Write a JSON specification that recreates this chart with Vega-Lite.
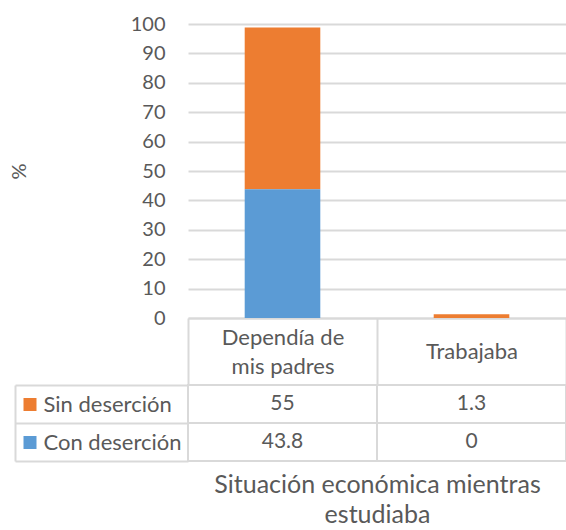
{
  "$schema": "https://vega.github.io/schema/vega-lite/v6.json",
  "padding": {"left": 9, "top": 14, "right": 0, "bottom": 0},
  "background": "white",
  "bounds": "flush",
  "spacing": 67,
  "data": {
    "values": [
      {"cat": "Dependía de mis padres", "serie": "Sin deserción", "value": 55},
      {"cat": "Dependía de mis padres", "serie": "Con deserción", "value": 43.8},
      {"cat": "Trabajaba", "serie": "Sin deserción", "value": 1.3},
      {"cat": "Trabajaba", "serie": "Con deserción", "value": 0}
    ]
  },
  "config": {
    "font": "Lato",
    "view": {"stroke": null},
    "axis": {
      "labelColor": "#595959",
      "titleColor": "#595959",
      "labelFont": "Lato",
      "titleFont": "Lato",
      "titleFontWeight": "normal",
      "gridColor": "#d9d9d9",
      "domainColor": "#d9d9d9",
      "tickColor": "#d9d9d9"
    }
  },
  "vconcat": [
    {
      "width": 378,
      "height": 294,
      "mark": {"type": "bar", "width": {"band": 0.4}},
      "encoding": {
        "x": {
          "field": "cat", "type": "nominal", "sort": null,
          "scale": {"paddingInner": 0, "paddingOuter": 0},
          "axis": {
            "title": null, "orient": "bottom", "labelAngle": 0, "labelFontSize": 22,
            "labelExpr": "datum.value == 'Dependía de mis padres' ? ['Dependía de', 'mis padres'] : datum.value",
            "labelLineHeight": 29, "labelBaseline": "middle",
            "labelPadding": {"condition": {"test": "datum.value == 'Dependía de mis padres'", "value": -48}, "value": -34},
            "tickBand": "extent", "tickSize": 67, "tickWidth": 2, "domainWidth": 2, "grid": false
          }
        },
        "y": {
          "field": "value", "type": "quantitative", "stack": "zero",
          "scale": {"domain": [0, 100], "nice": false},
          "axis": {
            "title": "%", "titleFontSize": 20, "titlePadding": 101,
            "labelFontSize": 20, "labelPadding": 23, "ticks": false, "domain": false,
            "values": [0, 10, 20, 30, 40, 50, 60, 70, 80, 90, 100], "gridWidth": 2
          }
        },
        "color": {
          "field": "serie", "type": "nominal",
          "scale": {"domain": ["Sin deserción", "Con deserción"], "range": ["#ED7D31", "#5B9BD5"]},
          "legend": null
        },
        "order": {"field": "serie", "sort": "ascending"}
      }
    },
    {
      "width": 378,
      "height": 76,
      "encoding": {
        "x": {
          "field": "cat", "type": "nominal", "sort": null,
          "scale": {"paddingInner": 0, "paddingOuter": 0},
          "axis": {
            "labels": false, "ticks": false, "domain": false,
            "title": ["Situación económica mientras", "estudiaba"],
            "titleFontSize": 25, "titleLineHeight": 30, "titlePadding": 11
          }
        }
      },
      "layer": [
        {
          "mark": {"type": "rect", "fill": "white", "stroke": "#d9d9d9", "strokeWidth": 2},
          "encoding": {
            "y": {
              "field": "serie", "type": "nominal", "sort": ["Sin deserción", "Con deserción"],
              "scale": {"paddingInner": 0, "paddingOuter": 0},
              "axis": {
                "orient": "left", "offset": 173, "title": null,
                "domain": true, "domainWidth": 2,
                "tickBand": "extent", "tickSize": -173, "tickWidth": 2,
                "labelAlign": "left", "labelBaseline": "middle", "labelFontSize": 22,
                "labelPadding": 145, "labelLimit": 0
              }
            }
          }
        },
        {
          "mark": {"type": "text", "fontSize": 21, "color": "#595959"},
          "encoding": {
            "text": {"field": "value", "type": "quantitative"},
            "y": {
              "field": "serie", "type": "nominal", "sort": ["Sin deserción", "Con deserción"],
              "scale": {"paddingInner": 0, "paddingOuter": 0},
              "axis": {
                "orient": "left", "offset": 152, "title": null,
                "domain": false, "labels": false,
                "tickSize": 13, "tickWidth": 13, "tickCap": "butt",
                "tickColor": {"condition": {"test": "datum.value == 'Sin deserción'", "value": "#ED7D31"}, "value": "#5B9BD5"}
              }
            }
          }
        }
      ],
      "resolve": {"axis": {"y": "independent"}}
    }
  ]
}
